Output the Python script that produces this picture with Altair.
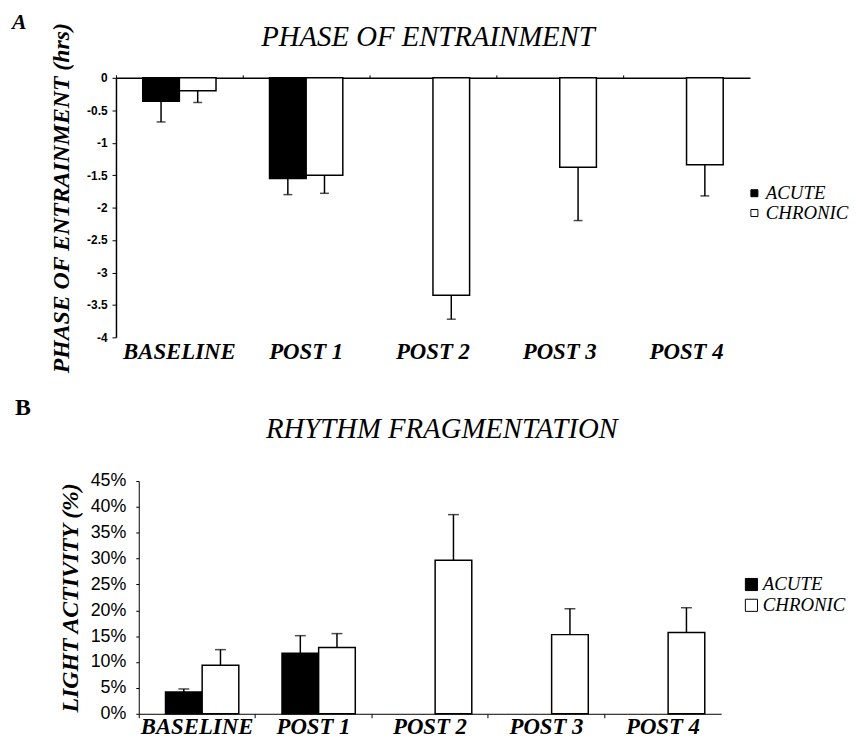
import altair as alt
import pandas as pd

categories = ["BASELINE", "POST 1", "POST 2", "POST 3", "POST 4"]
groups = ["ACUTE", "CHRONIC"]

# Panel A: phase of entrainment (hrs), mean and SEM
phase_acute = [-0.36, -1.55]
phase_acute_sem = [0.32, 0.25]
phase_chronic = [-0.20, -1.50, -3.35, -1.38, -1.34]
phase_chronic_sem = [0.18, 0.28, 0.37, 0.82, 0.48]
phase_ticks = [0, -0.5, -1, -1.5, -2, -2.5, -3, -3.5, -4]

# Panel B: rhythm fragmentation (light activity fraction), mean and SEM
frag_acute = [0.042, 0.117]
frag_acute_sem = [0.006, 0.034]
frag_chronic = [0.094, 0.128, 0.297, 0.153, 0.157]
frag_chronic_sem = [0.030, 0.027, 0.088, 0.050, 0.048]
frag_ticks = [0, 0.05, 0.10, 0.15, 0.20, 0.25, 0.30, 0.35, 0.40, 0.45]


def build(acute, acute_sem, chronic, chronic_sem, sign):
    rows = []
    for i, (v, s) in enumerate(zip(acute, acute_sem)):
        rows.append({"period": categories[i], "group": "ACUTE", "value": v, "err": v + sign * s})
    for i, (v, s) in enumerate(zip(chronic, chronic_sem)):
        rows.append({"period": categories[i], "group": "CHRONIC", "value": v, "err": v + sign * s})
    return pd.DataFrame(rows)


dfA = build(phase_acute, phase_acute_sem, phase_chronic, phase_chronic_sem, -1)
dfB = build(frag_acute, frag_acute_sem, frag_chronic, frag_chronic_sem, 1)

serif = "Liberation Serif"
sans = "Liberation Sans"

off_scale = alt.Scale(domain=groups, paddingInner=0, paddingOuter=0.73)
color_scale = alt.Scale(domain=groups, range=["#000000", "#ffffff"])


def text_layer(label, x, y, size, style="italic", weight="normal", align="left"):
    return alt.Chart(pd.DataFrame({"t": [label]})).mark_text(
        font=serif, fontSize=size, fontStyle=style, fontWeight=weight,
        align=align, baseline="alphabetic", color="black"
    ).encode(x=alt.value(x), y=alt.value(y), text="t:N")


# ---------------- Panel A ----------------
WA, HA = 640, 262
xA_scale = alt.Scale(domain=categories, paddingInner=0, paddingOuter=0)
yA_scale = alt.Scale(domain=[-4, 0], nice=False, zero=False)
yA_axis = alt.Axis(values=phase_ticks, labelOverlap=False,
                   labelExpr="datum.value == 0 ? '0' : '-' + format(abs(datum.value), '~g')",
                   labelFont=sans, labelFontWeight="bold", labelFontSize=12, labelColor="black",
                   tickSize=4, tickColor="black", domainColor="black", domainWidth=1.5,
                   labelPadding=5, title="PHASE OF ENTRAINMENT (hrs)", titleFont=serif,
                   titleFontStyle="italic", titleFontWeight="bold", titleFontSize=24,
                   titleColor="black", titlePadding=13, titleY=121, grid=False)
baseA = alt.Chart(dfA)
barsA = baseA.mark_bar(stroke="black", strokeWidth=1.5).encode(
    x=alt.X("period:N", scale=xA_scale, sort=categories,
            axis=alt.Axis(orient="bottom", domain=False, ticks=False, labelAngle=0,
                          labelFont=serif, labelFontStyle="italic", labelFontWeight="bold",
                          labelFontSize=23, labelColor="black", labelPadding=3, title=None)),
    xOffset=alt.XOffset("group:N", scale=off_scale),
    y=alt.Y("value:Q", scale=yA_scale, axis=yA_axis),
    color=alt.Color("group:N", scale=color_scale,
                    legend=alt.Legend(orient="none", legendX=635, legendY=107, title=None,
                                      symbolType="square", symbolSize=50, symbolStrokeColor="black",
                                      symbolStrokeWidth=1, labelFont=serif, labelFontStyle="italic",
                                      labelFontSize=19, labelColor="black", rowPadding=0, labelOffset=2)),
)
errA = baseA.mark_rule(color="black", strokeWidth=1.5).encode(
    x=alt.X("period:N", scale=xA_scale, sort=categories,
            axis=alt.Axis(orient="top", labels=False, domain=True, domainColor="black", domainWidth=1.5,
                          ticks=True, tickSize=3, tickColor="black", bandPosition=0, title=None)),
    xOffset=alt.XOffset("group:N", scale=off_scale),
    y=alt.Y("value:Q", scale=yA_scale, axis=yA_axis), y2="err:Q",
)
capA = baseA.mark_tick(orient="horizontal", size=9, thickness=1.5, color="black").encode(
    x=alt.X("period:N", scale=xA_scale, sort=categories, axis=None),
    xOffset=alt.XOffset("group:N", scale=off_scale),
    y=alt.Y("err:Q", scale=yA_scale, axis=yA_axis),
)
panelA = alt.layer(
    barsA, errA, capA,
    text_layer("A", -105, -49, 22, weight="bold"),
    text_layer("PHASE OF ENTRAINMENT", 315, -32, 29, align="center"),
).resolve_axis(x="independent").properties(width=WA, height=HA)

# ---------------- Panel B ----------------
WB, HB = 611, 235
xB_scale = alt.Scale(domain=categories, paddingInner=0, paddingOuter=0, range=[23, 611])
yB_scale = alt.Scale(domain=[0, 0.45], nice=False)
yB_axis = alt.Axis(values=frag_ticks, labelOverlap=False, format=".0%", offset=-23,
                   labelFont=sans, labelFontSize=18, labelColor="black",
                   tickSize=3, tickColor="black", domainColor="black", domainWidth=1,
                   labelPadding=10, title="LIGHT ACTIVITY (%)", titleFont=serif,
                   titleFontStyle="italic", titleFontWeight="bold", titleFontSize=24,
                   titleColor="black", titlePadding=8, grid=False)
baseB = alt.Chart(dfB)
barsB = baseB.mark_bar(stroke="black", strokeWidth=1.5).encode(
    x=alt.X("period:N", scale=xB_scale, sort=categories,
            axis=alt.Axis(orient="bottom", domain=False, ticks=False, labelAngle=0,
                          labelFont=serif, labelFontStyle="italic", labelFontWeight="bold",
                          labelFontSize=23, labelColor="black", labelPadding=2, title=None)),
    xOffset=alt.XOffset("group:N", scale=off_scale),
    y=alt.Y("value:Q", scale=yB_scale, axis=yB_axis),
    color=alt.Color("group:N", scale=color_scale,
                    legend=alt.Legend(orient="none", legendX=632, legendY=95, title=None,
                                      symbolType="square", symbolSize=150, symbolStrokeColor="black",
                                      symbolStrokeWidth=1, labelFont=serif, labelFontStyle="italic",
                                      labelFontSize=19, labelColor="black", rowPadding=1, labelOffset=2)),
)
errB = baseB.mark_rule(color="black", strokeWidth=1.5).encode(
    x=alt.X("period:N", scale=xB_scale, sort=categories,
            axis=alt.Axis(orient="bottom", labels=False, domain=True, domainColor="black", domainWidth=1,
                          ticks=True, tickSize=4, tickColor="black", bandPosition=0, title=None)),
    xOffset=alt.XOffset("group:N", scale=off_scale),
    y=alt.Y("value:Q", scale=yB_scale, axis=yB_axis), y2="err:Q",
)
capB = baseB.mark_tick(orient="horizontal", size=11, thickness=1.5, color="black").encode(
    x=alt.X("period:N", scale=xB_scale, sort=categories, axis=None),
    xOffset=alt.XOffset("group:N", scale=off_scale),
    y=alt.Y("err:Q", scale=yB_scale, axis=yB_axis),
)
panelB = alt.layer(
    barsB, errB, capB,
    text_layer("B", -102, -67, 24, style="normal", weight="bold"),
    text_layer("RHYTHM FRAGMENTATION", 329, -43, 29, align="center"),
).resolve_axis(x="independent").properties(width=WB, height=HB)

chart = alt.vconcat(panelA, panelB, spacing=22).resolve_scale(color="independent").resolve_legend(
    color="independent"
).configure_view(stroke=None).properties(
    padding={"left": 4, "top": 0, "right": 0, "bottom": 0}
)

chart.save("out.html", embed_options={"renderer": "svg", "actions": False})
